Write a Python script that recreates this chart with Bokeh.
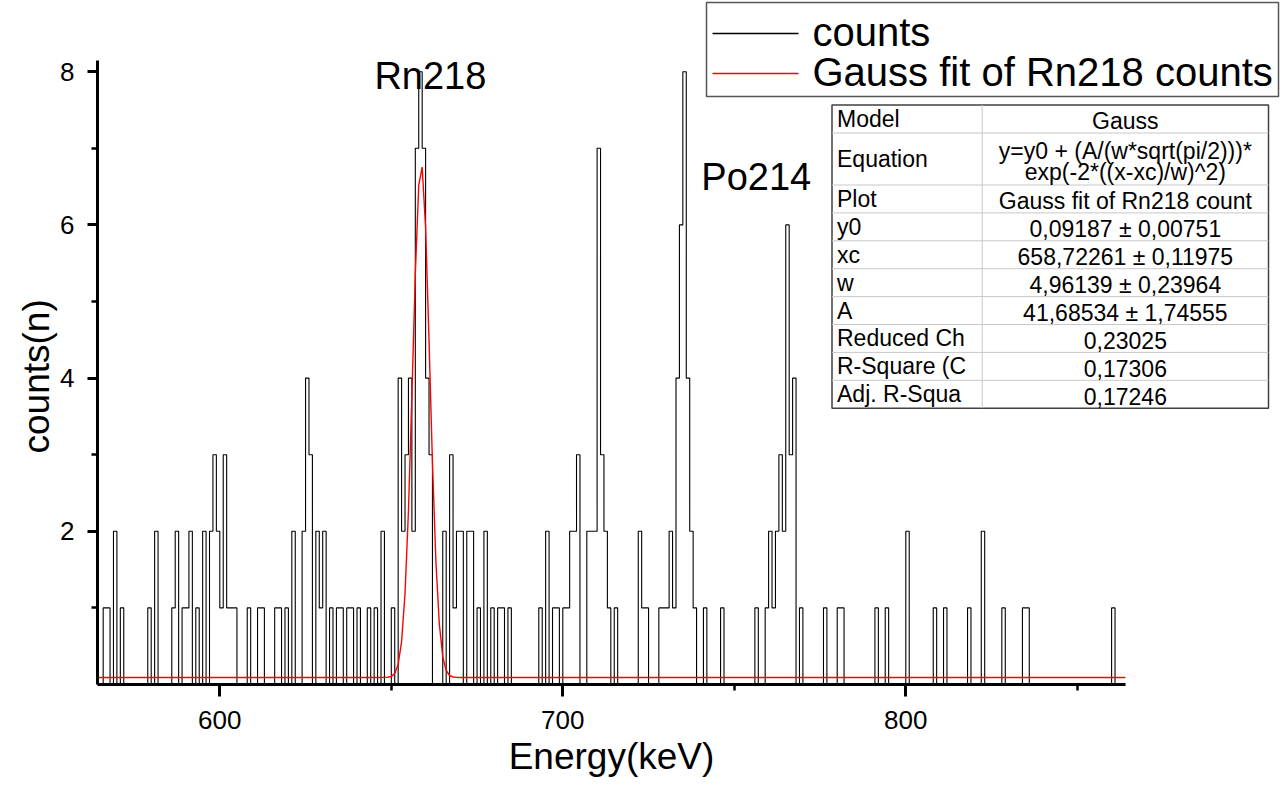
import numpy as np
from bokeh.plotting import figure
from bokeh.models import Range1d, FixedTicker, Label, Title
from bokeh.embed import file_html
from bokeh.resources import INLINE

# ---------------- data ----------------
# left edge (keV) of every non-empty 1 keV bin, and its count
BIN_LEFT_KEV = [566, 567, 569, 571, 579, 581, 586, 587, 589, 590, 591, 593, 595,
                597, 598, 599, 600, 601, 602, 603, 604, 608, 611, 612, 616, 617,
                619, 621, 624, 625, 626, 628, 629, 630, 632, 634, 635, 637, 638,
                640, 643, 645, 647, 650, 652, 653, 654, 655, 656, 657, 658, 659,
                660, 661, 665, 667, 668, 669, 670, 672, 673, 675, 677, 679, 681,
                682, 684, 693, 695, 697, 698, 700, 701, 702, 703, 704, 707, 708,
                709, 710, 711, 712, 713, 715, 722, 723, 724, 728, 729, 730, 731,
                732, 733, 734, 735, 736, 737, 738, 741, 746, 756, 759, 760, 761,
                762, 763, 764, 765, 766, 767, 769, 776, 780, 781, 791, 794, 800,
                808, 811, 818, 822, 828, 834, 835, 860]
BIN_COUNTS = [1, 1, 2, 1, 1, 2, 1, 2, 1, 1, 2, 1, 2,
              2, 3, 2, 1, 3, 1, 1, 1, 1, 1, 1, 1, 1,
              1, 2, 2, 4, 3, 2, 1, 2, 1, 1, 1, 1, 1,
              1, 1, 1, 2, 1, 4, 2, 3, 4, 2, 7, 8, 7,
              4, 3, 2, 3, 1, 2, 2, 2, 2, 1, 2, 1, 1,
              1, 1, 1, 2, 1, 1, 1, 1, 2, 2, 3, 2, 2,
              2, 7, 3, 2, 1, 1, 2, 1, 1, 1, 1, 1, 2,
              1, 4, 6, 8, 4, 2, 1, 1, 1, 1, 1, 2, 1,
              2, 3, 2, 6, 3, 4, 1, 1, 1, 1, 1, 1, 2,
              1, 1, 1, 2, 1, 1, 1, 1]
HIST_START_KEV = 564
HIST_END_KEV = 864

# Gauss fit parameters (from the fit table)
FIT_Y0 = 0.09187
FIT_XC = 658.72261
FIT_W = 4.96139
FIT_A = 41.68534

X_TICKS = [600, 700, 800]
X_MINOR_TICKS = [650, 750, 850]
Y_TICKS = [2, 4, 6, 8]
Y_MINOR_TICKS = [1, 3, 5, 7]

SERIES_NAMES = ["counts", "Gauss fit of Rn218 counts"]
SERIES_COLORS = ["black", "#ff0000"]
PEAK_NAMES = ["Rn218", "Po214"]
PEAK_LABEL_X = [661.4, 756.4]
PEAK_LABEL_Y = [7.94, 6.62]

TABLE_KEYS = ["Model", "Equation", "Plot", "y0", "xc", "w", "A",
              "Reduced Ch", "R-Square (C", "Adj. R-Squa"]
TABLE_VALUES = ["Gauss",
                ["y=y0 + (A/(w*sqrt(pi/2)))*", "exp(-2*((x-xc)/w)^2)"],
                "Gauss fit of Rn218 count",
                "0,09187 \u00b1 0,00751",
                "658,72261 \u00b1 0,11975",
                "4,96139 \u00b1 0,23964",
                "41,68534 \u00b1 1,74555",
                "0,23025", "0,17306", "0,17246"]

X_LABEL = "Energy(keV)"
Y_LABEL = "counts(n)"

# ---------------- layout (pixels) ----------------
FONT = "Liberation Sans"
W, H = 1283, 785
FRAME_LEFT, FRAME_BOTTOM = 97, 684
FRAME_W, FRAME_H = W - FRAME_LEFT, FRAME_BOTTOM
PX_PER_KEV = 3.43
PX_PER_COUNT = 76.6
X_START = 600 - (219.3 - FRAME_LEFT) / PX_PER_KEV
X_END = X_START + FRAME_W / PX_PER_KEV
Y_END = FRAME_H / PX_PER_COUNT
X_AXIS_RIGHT_PX = 1125
Y_AXIS_TOP = 8.15

# page pixel -> data coordinates
def px_x(rx):
    return X_START + (rx - FRAME_LEFT) / PX_PER_KEV

def px_y(ry):
    return (FRAME_BOTTOM - ry) / PX_PER_COUNT

# ---------------- histogram & fit ----------------
edges = np.arange(HIST_START_KEV, HIST_END_KEV + 1)
counts_full = np.zeros(len(edges))
for left, c in zip(BIN_LEFT_KEV, BIN_COUNTS):
    counts_full[left - HIST_START_KEV] = c
counts_full[-1] = 0

x_fit = np.arange(HIST_START_KEV, HIST_END_KEV + 1, 1.0)
y_fit = FIT_Y0 + FIT_A / (FIT_W * np.sqrt(np.pi / 2)) * np.exp(-2 * ((x_fit - FIT_XC) / FIT_W) ** 2)

p = figure(width=W, height=H, x_range=Range1d(X_START, X_END), y_range=Range1d(0, Y_END),
           output_backend="svg", toolbar_location=None, title=None,
           min_border_left=FRAME_LEFT, min_border_bottom=H - FRAME_BOTTOM,
           min_border_top=0, min_border_right=0)
p.outline_line_color = None
p.xgrid.visible = False
p.ygrid.visible = False
p.background_fill_color = "white"
p.border_fill_color = "white"

step_r = p.step(edges, counts_full, mode="after", line_color=SERIES_COLORS[0], line_width=1.1)
fit_r = p.line(x_fit, y_fit, line_color=SERIES_COLORS[1], line_width=1.4)

# axes
xa = p.xaxis[0]
xa.ticker = FixedTicker(ticks=X_TICKS, minor_ticks=X_MINOR_TICKS)
xa.bounds = (X_START, px_x(X_AXIS_RIGHT_PX))
ya = p.yaxis[0]
ya.ticker = FixedTicker(ticks=Y_TICKS, minor_ticks=Y_MINOR_TICKS)
ya.bounds = (0, Y_AXIS_TOP)
for ax in (xa, ya):
    ax.axis_line_width = 3
    ax.axis_line_color = "black"
    ax.major_tick_in = 0
    ax.minor_tick_in = 0
    ax.major_tick_line_width = 3
    ax.minor_tick_line_width = 2.5
    ax.major_label_text_font = FONT
    ax.major_label_text_font_size = "26px"
    ax.major_label_text_color = "black"
xa.major_tick_out = 12
xa.minor_tick_out = 6
xa.major_label_standoff = 14
ya.major_tick_out = 10
ya.minor_tick_out = 6
ya.major_label_standoff = 13

# axis titles, centred on the drawn axis extent (not the whole frame)
XL_SIZE = 37
x_title_w = 5.557 * XL_SIZE          # Arial-metric advance width of "Energy(keV)"
y_title_w = 4.168 * XL_SIZE          # Arial-metric advance width of "counts(n)"
axis_cx = (FRAME_LEFT + X_AXIS_RIGHT_PX) / 2
axis_cy = FRAME_BOTTOM - Y_AXIS_TOP * PX_PER_COUNT / 2 + 4
p.add_layout(Title(text=X_LABEL, align="left", offset=axis_cx - x_title_w / 2 - FRAME_LEFT,
                   standoff=4, text_font=FONT, text_font_size=f"{XL_SIZE}px",
                   text_font_style="normal", text_color="black"), "below")
p.add_layout(Title(text=Y_LABEL, align="left", offset=FRAME_BOTTOM - (axis_cy + y_title_w / 2),
                   standoff=2, text_font=FONT, text_font_size=f"{XL_SIZE}px",
                   text_font_style="normal", text_color="black"), "left")

# peak labels
for name, lx, ly in zip(PEAK_NAMES, PEAK_LABEL_X, PEAK_LABEL_Y):
    p.add_layout(Label(x=lx, y=ly, text=name, text_font=FONT, text_font_size="38px",
                       text_color="black", text_align="center", text_baseline="alphabetic"))

# legend box (drawn by hand to match the original's geometry)
L_LEFT, L_RIGHT, L_TOP, L_BOTTOM = 706, 1278, 2, 96
L_ROWS = [33, 73]
p.quad(left=px_x(L_LEFT), right=px_x(L_RIGHT), top=px_y(L_TOP), bottom=px_y(L_BOTTOM),
       fill_color="white", line_color="#555555", line_width=1.5)
p.segment(x0=[px_x(712)] * 2, x1=[px_x(798)] * 2, y0=[px_y(r) for r in L_ROWS],
          y1=[px_y(r) for r in L_ROWS], line_color=SERIES_COLORS, line_width=1.4)
for name, ry in zip(SERIES_NAMES, L_ROWS):
    p.add_layout(Label(x=px_x(812), y=px_y(ry - 1.5), text=name, text_font=FONT,
                       text_font_size="40px", text_color="black",
                       text_align="left", text_baseline="middle"))

# fit table
T_LEFT, T_DIV, T_RIGHT = 831.5, 981.7, 1268
T_TOP = 104.5
row_h = [28, 52] + [27.9] * 8
bounds_y = [T_TOP]
for h in row_h:
    bounds_y.append(bounds_y[-1] + h)
p.quad(left=px_x(T_LEFT), right=px_x(T_RIGHT), top=px_y(bounds_y[0]), bottom=px_y(bounds_y[-1]),
       fill_color="white", line_color="#404040", line_width=1.5)
p.segment(x0=[px_x(T_LEFT)] * (len(bounds_y) - 2), x1=[px_x(T_RIGHT)] * (len(bounds_y) - 2),
          y0=[px_y(b) for b in bounds_y[1:-1]], y1=[px_y(b) for b in bounds_y[1:-1]],
          line_color="#c8c8c8", line_width=1)
p.segment(x0=[px_x(T_DIV)], x1=[px_x(T_DIV)], y0=[px_y(bounds_y[0])], y1=[px_y(bounds_y[-1])],
          line_color="#c8c8c8", line_width=1)
cx = (T_DIV + T_RIGHT) / 2
for i, (k, v) in enumerate(zip(TABLE_KEYS, TABLE_VALUES)):
    yc = (bounds_y[i] + bounds_y[i + 1]) / 2
    p.add_layout(Label(x=px_x(T_LEFT + 5), y=px_y(yc), text=k, text_font=FONT, text_color="black",
                       text_font_size="23px", text_align="left", text_baseline="middle"))
    lines = v if isinstance(v, list) else [v]
    n = len(lines)
    for j, line in enumerate(lines):
        ly = yc + 2 + (j - (n - 1) / 2) * 21
        p.add_layout(Label(x=px_x(cx), y=px_y(ly), text=line, text_font=FONT, text_color="black",
                           text_font_size="23px", text_align="center", text_baseline="middle"))

open("out.html", "w").write(file_html(p, INLINE))
